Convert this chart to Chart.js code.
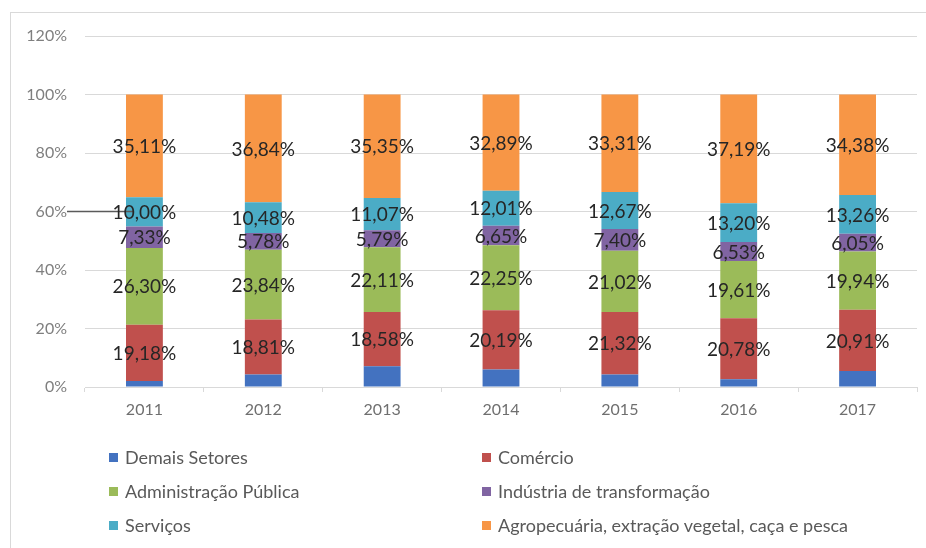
<!DOCTYPE html>
<html lang="pt-BR">
<head>
<meta charset="utf-8">
<script src="https://cdn.jsdelivr.net/npm/chart.js@4/dist/chart.umd.min.js"></script>
<style>
    html, body { margin: 0; padding: 0; background: #fff; overflow: hidden; }
    #wrap { position: relative; width: 926px; height: 548px; overflow: hidden; }
    #frame { position: absolute; left: 10px; top: 12px; width: 1000px; height: 1000px; border: 1px solid #d9d9d9; box-sizing: border-box; }
    #chart { position: absolute; left: 0; top: 0; }
    #legend { position: absolute; left: 0; top: 0; font-family: Lato, sans-serif; font-size: 18px; color: #595959; }
    .item { position: absolute; display: flex; align-items: center; white-space: nowrap; transform: translateY(-50%); }
    .box { width: 9px; height: 9px; margin-right: 7px; }
</style>
</head>
<body>
<div id="wrap">
    <div id="frame"></div>
    <canvas id="chart" width="926" height="548"></canvas>
    <div id="legend"></div>
</div>
<script>
// Dados (%)
const anos = ['2011', '2012', '2013', '2014', '2015', '2016', '2017'];
const demaisSetores = [2.08, 4.25, 7.10, 6.01, 4.28, 2.69, 5.46];
const comercio = [19.18, 18.81, 18.58, 20.19, 21.32, 20.78, 20.91];
const administracao = [26.30, 23.84, 22.11, 22.25, 21.02, 19.61, 19.94];
const industria = [7.33, 5.78, 5.79, 6.65, 7.40, 6.53, 6.05];
const servicos = [10.00, 10.48, 11.07, 12.01, 12.67, 13.20, 13.26];
const agropecuaria = [35.11, 36.84, 35.35, 32.89, 33.31, 37.19, 34.38];
const yMax = 120;
const yStep = 20;

const series = [
    { label: 'Demais Setores', data: demaisSetores, color: '#4372c0', showLabel: false },
    { label: 'Comércio', data: comercio, color: '#c0504d', showLabel: true },
    { label: 'Administração Pública', data: administracao, color: '#9bbb59', showLabel: true },
    { label: 'Indústria de transformação', data: industria, color: '#8064a2', showLabel: true },
    { label: 'Serviços', data: servicos, color: '#4bacc6', showLabel: true },
    { label: 'Agropecuária, extração vegetal, caça e pesca', data: agropecuaria, color: '#f79646', showLabel: true }
];

const fmt = (v) => v.toFixed(2).replace('.', ',') + '%';

// rótulos centrados em cada segmento
const segmentLabels = {
    id: 'segmentLabels',
    afterDatasetsDraw(chart) {
        const ctx = chart.ctx;
        ctx.save();
        ctx.font = '19px Lato, sans-serif';
        ctx.fillStyle = '#262626';
        ctx.textAlign = 'center';
        ctx.textBaseline = 'middle';
        chart.data.datasets.forEach((ds, i) => {
            if (!series[i].showLabel) return;
            chart.getDatasetMeta(i).data.forEach((bar, j) => {
                const y = (bar.y + bar.base) / 2;
                ctx.fillText(fmt(ds.data[j]), bar.x, y + 1);
            });
        });
        ctx.restore();
    }
};

// linha escura que sai do rótulo 60% até a primeira barra
const leaderLine = {
    id: 'leaderLine',
    afterDatasetsDraw(chart) {
        const ctx = chart.ctx;
        const y = chart.scales.y.getPixelForValue(60);
        const firstBar = chart.getDatasetMeta(0).data[0];
        ctx.save();
        ctx.strokeStyle = '#5a5a5a';
        ctx.lineWidth = 1.5;
        ctx.beginPath();
        ctx.moveTo(67, y);
        ctx.lineTo(firstBar.x - firstBar.width / 2 + 8, y);
        ctx.stroke();
        ctx.restore();
    }
};

const chart = new Chart(document.getElementById('chart'), {
    type: 'bar',
    data: {
        labels: anos,
        datasets: series.map(s => ({
            label: s.label,
            data: s.data,
            backgroundColor: s.color,
            borderWidth: 0,
            barPercentage: 0.31,
            categoryPercentage: 1
        }))
    },
    options: {
        responsive: false,
        animation: false,
        layout: { padding: { top: 36, right: 9, bottom: 121, left: 0 } },
        plugins: {
            legend: { display: false },
            tooltip: { enabled: false }
        },
        scales: {
            x: {
                stacked: true,
                afterFit: (scale) => { scale.height = 40; },
                grid: { drawOnChartArea: false, offset: true, tickLength: 5, color: '#d9d9d9' },
                border: { color: '#d9d9d9' },
                ticks: { color: '#6f6f6f', padding: 8, font: { family: 'Lato, sans-serif', size: 16 } }
            },
            y: {
                stacked: true,
                min: 0,
                max: yMax,
                afterFit: (scale) => { scale.width = 85; },
                grid: { color: '#d9d9d9', drawTicks: false },
                border: { display: false },
                ticks: {
                    stepSize: yStep,
                    padding: 18,
                    color: '#7f7f7f',
                    font: { family: 'Lato, sans-serif', size: 16 },
                    callback: (v) => v + '%'
                }
            }
        }
    },
    plugins: [leaderLine, segmentLabels]
});

// legenda em duas colunas
const legend = document.getElementById('legend');
const colX = [109, 482];
const rowY = [457, 491, 525];
series.forEach((s, i) => {
    const el = document.createElement('div');
    el.className = 'item';
    el.style.left = colX[i % 2] + 'px';
    el.style.top = rowY[Math.floor(i / 2)] + 'px';
    el.innerHTML = '<span class="box" style="background:' + s.color + '"></span><span></span>';
    el.lastChild.textContent = s.label;
    legend.appendChild(el);
});
</script>
</body>
</html>
